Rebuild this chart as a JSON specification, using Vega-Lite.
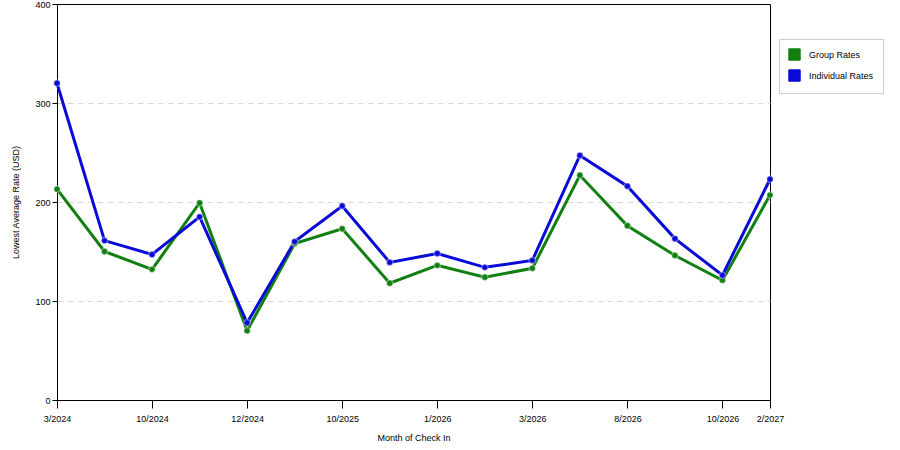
{
  "$schema": "https://vega.github.io/schema/vega-lite/v6.json",
  "width": 713,
  "height": 396,
  "autosize": {"type": "none"},
  "padding": {"left": 57, "top": 4, "right": 130, "bottom": 50},
  "background": "white",
  "config": {
    "font": "Liberation Sans",
    "view": {"stroke": "#000000", "strokeWidth": 1},
    "axis": {"labelFont": "Liberation Sans", "titleFont": "Liberation Sans", "labelFontSize": 9, "titleFontSize": 9, "titleFontWeight": "normal", "labelColor": "#000", "titleColor": "#000", "domainColor": "#000", "tickColor": "#000"}
  },
  "data": {
    "values": [
      {"month": "3/2024", "series": "Group Rates", "rate": 213},
      {"month": "3/2024", "series": "Individual Rates", "rate": 320},
      {"month": "8/2024", "series": "Group Rates", "rate": 150},
      {"month": "8/2024", "series": "Individual Rates", "rate": 161},
      {"month": "10/2024", "series": "Group Rates", "rate": 132},
      {"month": "10/2024", "series": "Individual Rates", "rate": 147},
      {"month": "11/2024", "series": "Group Rates", "rate": 199},
      {"month": "11/2024", "series": "Individual Rates", "rate": 185},
      {"month": "12/2024", "series": "Group Rates", "rate": 70},
      {"month": "12/2024", "series": "Individual Rates", "rate": 78},
      {"month": "9/2025", "series": "Group Rates", "rate": 158},
      {"month": "9/2025", "series": "Individual Rates", "rate": 160},
      {"month": "10/2025", "series": "Group Rates", "rate": 173},
      {"month": "10/2025", "series": "Individual Rates", "rate": 196},
      {"month": "12/2025", "series": "Group Rates", "rate": 118},
      {"month": "12/2025", "series": "Individual Rates", "rate": 139},
      {"month": "1/2026", "series": "Group Rates", "rate": 136},
      {"month": "1/2026", "series": "Individual Rates", "rate": 148},
      {"month": "2/2026", "series": "Group Rates", "rate": 124},
      {"month": "2/2026", "series": "Individual Rates", "rate": 134},
      {"month": "3/2026", "series": "Group Rates", "rate": 133},
      {"month": "3/2026", "series": "Individual Rates", "rate": 141},
      {"month": "6/2026", "series": "Group Rates", "rate": 227},
      {"month": "6/2026", "series": "Individual Rates", "rate": 247},
      {"month": "8/2026", "series": "Group Rates", "rate": 176},
      {"month": "8/2026", "series": "Individual Rates", "rate": 216},
      {"month": "9/2026", "series": "Group Rates", "rate": 146},
      {"month": "9/2026", "series": "Individual Rates", "rate": 163},
      {"month": "10/2026", "series": "Group Rates", "rate": 121},
      {"month": "10/2026", "series": "Individual Rates", "rate": 126},
      {"month": "2/2027", "series": "Group Rates", "rate": 207},
      {"month": "2/2027", "series": "Individual Rates", "rate": 223}
    ]
  },
  "encoding": {
    "x": {
      "field": "month", "type": "ordinal", "sort": null,
      "scale": {"type": "point", "padding": 0},
      "axis": {
        "title": "Month of Check In", "labelAngle": 0, "titlePadding": 10,
        "values": ["3/2024", "10/2024", "12/2024", "10/2025", "1/2026", "3/2026", "8/2026", "10/2026", "2/2027"],
        "tickSize": 8, "labelPadding": 6, "grid": false
      }
    },
    "y": {
      "field": "rate", "type": "quantitative",
      "scale": {"domain": [0, 400], "nice": false},
      "axis": {
        "title": "Lowest Average Rate (USD)", "values": [0, 100, 200, 300, 400],
        "tickSize": 5, "titlePadding": 14,
        "grid": true, "gridDash": [6, 4], "gridColor": "#d8d8d8",
        "gridOpacity": {"condition": {"test": "datum.value === 0 || datum.value === 400", "value": 0}, "value": 1}
      }
    },
    "color": {
      "field": "series", "type": "nominal",
      "scale": {"domain": ["Group Rates", "Individual Rates"], "range": ["#118011", "#0a0ad8"]},
      "legend": {
        "title": null, "orient": "none", "legendX": 722, "legendY": 35,
        "symbolType": "square", "symbolSize": 130, "symbolStrokeWidth": 1, "symbolStrokeColor": "#333",
        "labelFontSize": 9, "labelFont": "Liberation Sans", "labelColor": "#000", "labelOffset": 8,
        "padding": 9, "rowPadding": 4, "strokeColor": "#cccccc", "fillColor": "white"
      }
    }
  },
  "layer": [
    {"mark": {"type": "line", "strokeWidth": 3}},
    {"mark": {"type": "point", "filled": true, "size": 40, "opacity": 1, "stroke": "#ffffff", "strokeOpacity": 0.35, "strokeWidth": 1.5}}
  ]
}
